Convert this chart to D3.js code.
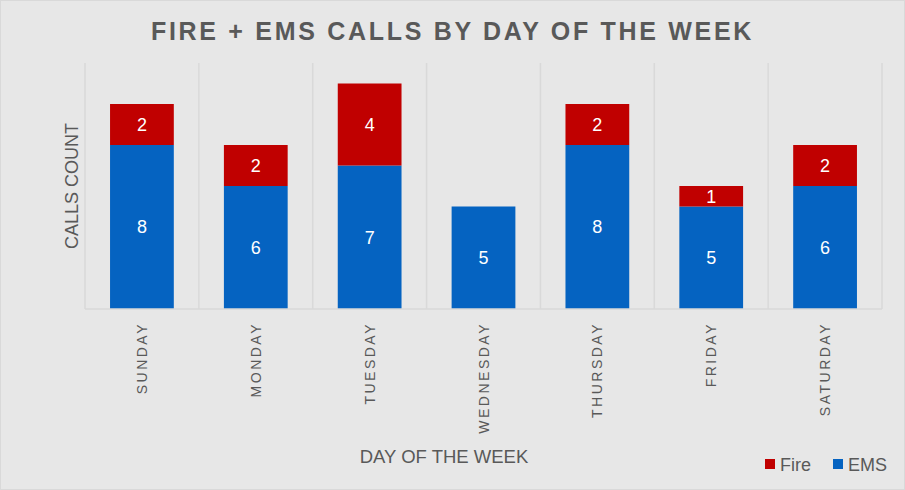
<!DOCTYPE html>
<html>
<head>
<meta charset="utf-8">
<script src="https://cdn.jsdelivr.net/npm/d3@7"></script>
<style>
  body { margin: 0; background: #fff; }
  svg { display: block; font-family: "Liberation Sans", Arial, sans-serif; }
</style>
</head>
<body>
<svg id="chart"></svg>
<script>
const days = ["SUNDAY", "MONDAY", "TUESDAY", "WEDNESDAY", "THURSDAY", "FRIDAY", "SATURDAY"];
const ems = [8, 6, 7, 5, 8, 5, 6];
const fire = [2, 2, 4, 0, 2, 1, 2];
const seriesNames = ["EMS", "Fire"];

const width = 905, height = 490;
const margin = { top: 63, right: 23, bottom: 181, left: 85 };
const colors = { EMS: "#0563C1", Fire: "#C00000" };

const svg = d3.select("#chart").attr("width", width).attr("height", height);

svg.append("rect")
    .attr("x", 0.5).attr("y", 0.5)
    .attr("width", width - 1).attr("height", height - 1)
    .style("fill", "#E7E7E7")
    .style("stroke", "#D9D9D9");

const rows = days.map((d, i) => ({ day: d, EMS: ems[i], Fire: fire[i] }));
const stacked = d3.stack().keys(seriesNames)(rows);

const x = d3.scaleBand()
    .domain(days)
    .range([margin.left, width - margin.right])
    .paddingInner(0)
    .paddingOuter(0);

const y = d3.scaleLinear()
    .domain([0, 12])
    .range([height - margin.bottom, margin.top]);

// vertical grid lines at category boundaries
const bounds = days.map(d => x(d)).concat([x.range()[1]]);
svg.append("g").selectAll("line")
    .data(bounds)
  .enter().append("line")
    .attr("x1", d => d).attr("x2", d => d)
    .attr("y1", y(12)).attr("y2", y(0))
    .style("stroke", "#D9D9D9")
    .style("stroke-width", "1.5px");

const barW = x.bandwidth() * 0.56;

const layers = svg.selectAll("g.layer")
    .data(stacked)
  .enter().append("g")
    .attr("class", "layer")
    .style("fill", d => colors[d.key]);

layers.selectAll("rect")
    .data(d => d.map((v, i) => ({ v, day: days[i] })))
  .enter().append("rect")
    .attr("x", d => x(d.day) + (x.bandwidth() - barW) / 2)
    .attr("y", d => y(d.v[1]))
    .attr("width", barW)
    .attr("height", d => y(d.v[0]) - y(d.v[1]));

layers.selectAll("text")
    .data(d => d.map((v, i) => ({ v, day: days[i] })).filter(d => d.v[1] - d.v[0] > 0))
  .enter().append("text")
    .attr("x", d => x(d.day) + x.bandwidth() / 2)
    .attr("y", d => (y(d.v[0]) + y(d.v[1])) / 2)
    .attr("dy", "0.35em")
    .attr("text-anchor", "middle")
    .style("fill", "#fff")
    .style("font-size", "18px")
    .text(d => d.v[1] - d.v[0]);

// x axis baseline
svg.append("line")
    .attr("x1", x.range()[0]).attr("x2", x.range()[1])
    .attr("y1", y(0)).attr("y2", y(0))
    .style("stroke", "#D9D9D9")
    .style("stroke-width", "1.5px");

// category labels
svg.append("g").selectAll("text")
    .data(days)
  .enter().append("text")
    .attr("transform", d => `translate(${x(d) + x.bandwidth() / 2 + 5},${y(0) + 13}) rotate(-90)`)
    .attr("text-anchor", "end")
    .style("fill", "#595959")
    .style("font-size", "14px")
    .style("letter-spacing", "2.5px")
    .text(d => d);

// title
svg.append("text")
    .attr("x", width / 2)
    .attr("y", 40)
    .attr("text-anchor", "middle")
    .style("fill", "#595959")
    .style("font-size", "25px")
    .style("font-weight", "bold")
    .style("letter-spacing", "2.7px")
    .text("FIRE + EMS CALLS BY DAY OF THE WEEK");

// axis titles
svg.append("text")
    .attr("transform", `translate(78,${(y(0) + y(12)) / 2}) rotate(-90)`)
    .attr("text-anchor", "middle")
    .style("fill", "#595959")
    .style("font-size", "18px")
    .text("CALLS COUNT");

svg.append("text")
    .attr("x", 444)
    .attr("y", 463)
    .attr("text-anchor", "middle")
    .style("fill", "#595959")
    .style("font-size", "18.5px")
    .text("DAY OF THE WEEK");

// legend
const legendItems = [
  { name: "Fire", x: 765 },
  { name: "EMS", x: 833 }
];
const legend = svg.append("g").selectAll("g")
    .data(legendItems)
  .enter().append("g")
    .attr("transform", d => `translate(${d.x},459)`);
legend.append("rect")
    .attr("width", 10).attr("height", 10)
    .style("fill", d => colors[d.name]);
legend.append("text")
    .attr("x", 15).attr("y", 12)
    .style("fill", "#595959")
    .style("font-size", "18px")
    .text(d => d.name);
</script>
</body>
</html>
